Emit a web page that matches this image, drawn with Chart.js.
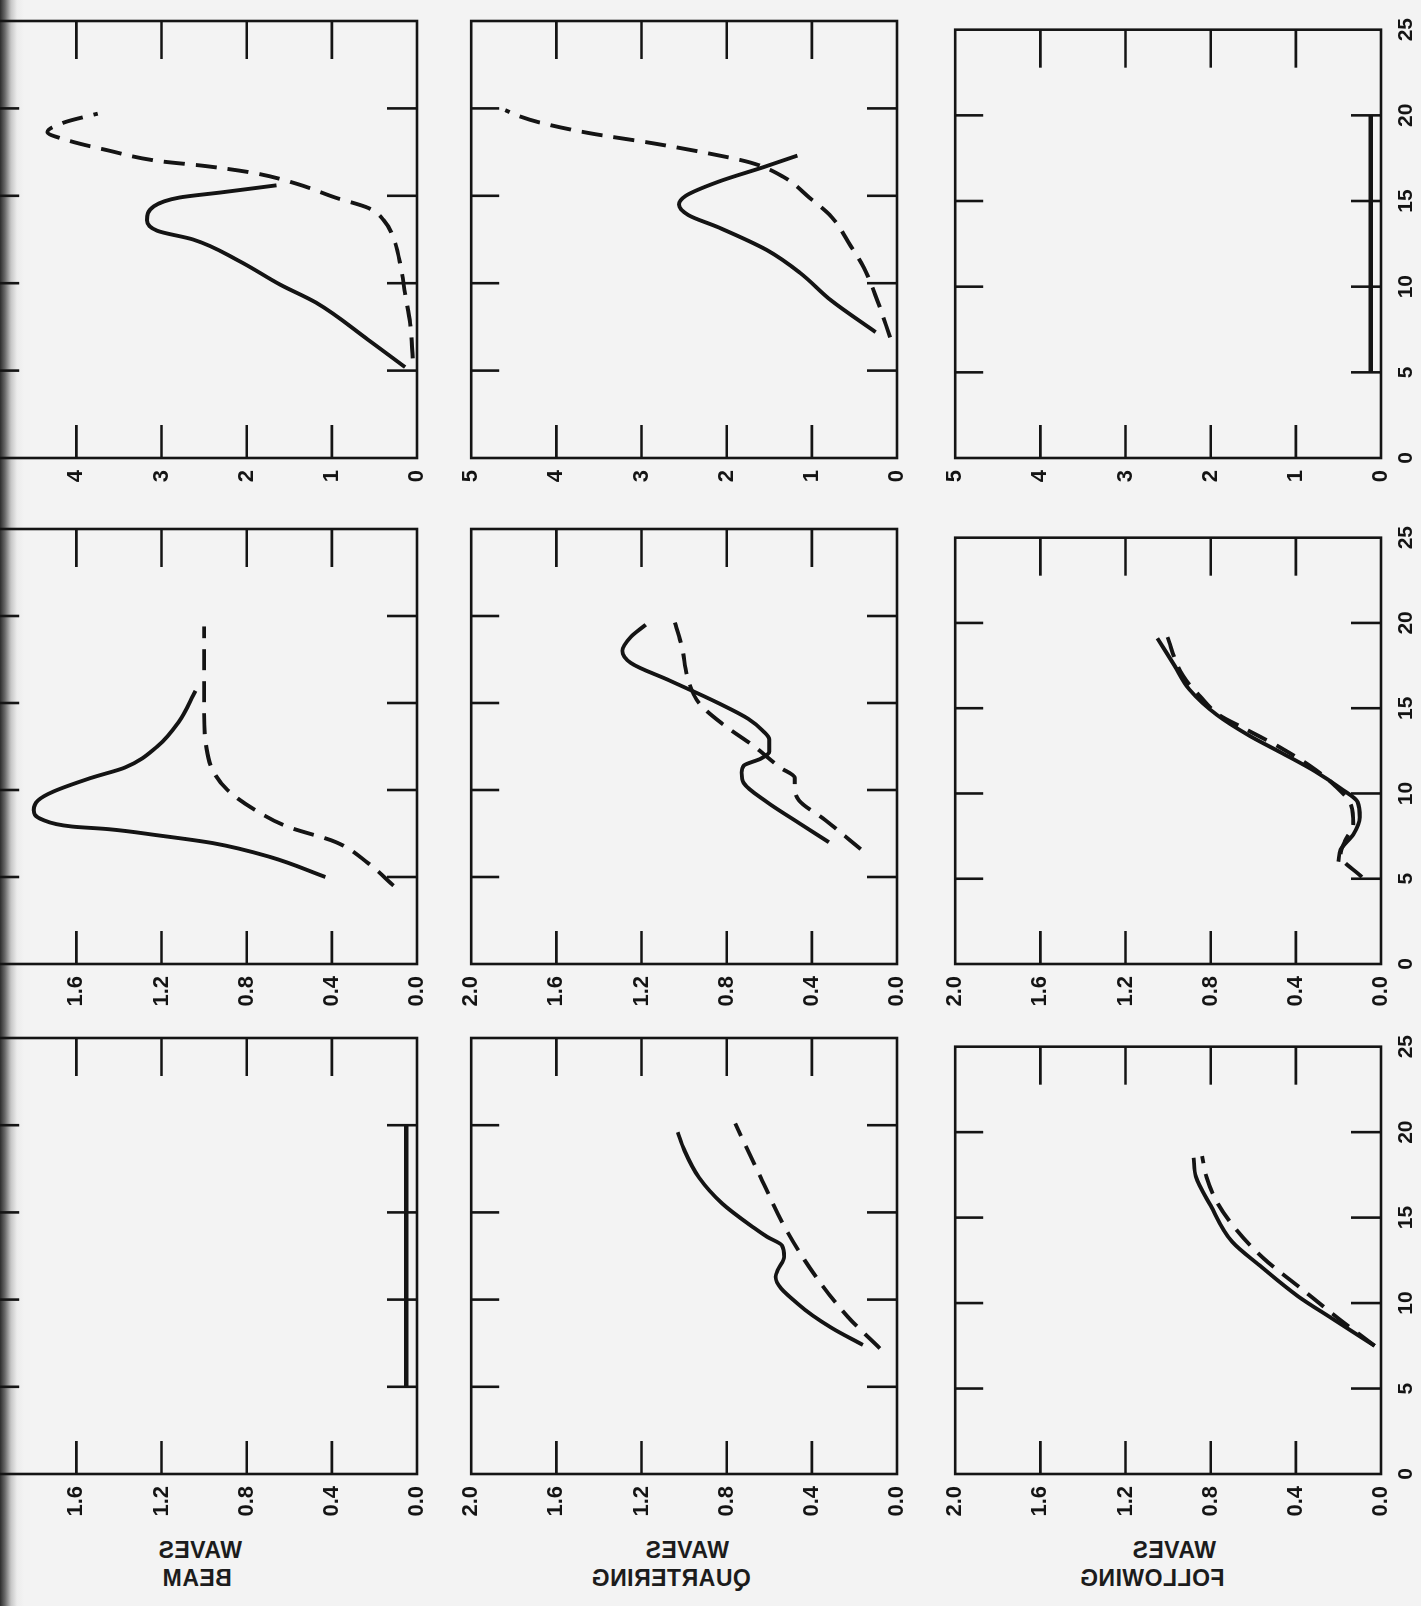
<!DOCTYPE html>
<html>
<head>
<meta charset="utf-8">
<title>Wave response panels</title>
<script src="https://cdn.jsdelivr.net/npm/chart.js@4.4.1/dist/chart.umd.min.js"></script>
<style>
  html, body { margin: 0; padding: 0; }
  body {
    width: 1421px; height: 1606px; overflow: hidden; position: relative;
    background: linear-gradient(to right, #2c2c2c 0px, #6a6a6a 5px, #c6c6c6 11px, #ececec 17px, #f3f3f3 24px);
    font-family: "Liberation Sans", Arial, sans-serif;
  }
  /* the page is laid out upright and then turned a quarter turn */
  #sheet {
    position: absolute; left: 0; top: 0; width: 1606px; height: 1421px;
    transform-origin: 0 0; transform: translate(0px, 1606px) rotate(-90deg);
  }
  #sheet canvas { position: absolute; }
  .rowlab {
    position: absolute; transform: translate(-50%, -50%) scaleX(-1);
    font-size: 23px; font-weight: bold; color: #1c1c1c; white-space: nowrap; letter-spacing: 0.5px;
  }
</style>
</head>
<body>
<div id="sheet"></div>
<script>
const ink = '#141414';

// axis ticks
const periodTicks = [0, 5, 10, 15, 20, 25];
const bigScaleTicks = [0, 1, 2, 3, 4, 5];
const smallScaleTicks = [0, 0.4, 0.8, 1.2, 1.6, 2.0];
const rowNames = ['BEAM', 'QUARTERING', 'FOLLOWING'];
const rowWord = 'WAVES';

// BEAM waves
const beamLeftFlatT = [5, 20];
const beamLeftFlatV = [0.05, 0.05];
const beamMidSolidT = [5.0, 6.15, 6.95, 7.4, 7.75, 7.9, 8.3, 8.85, 9.4, 9.9, 10.7, 11.3, 12.5, 13.9, 15.7];
const beamMidSolidV = [0.43, 0.69, 0.96, 1.22, 1.45, 1.62, 1.76, 1.80, 1.78, 1.71, 1.53, 1.37, 1.22, 1.12, 1.04];
const beamMidDashT = [4.5, 5.8, 7.0, 7.9, 8.85, 10.0, 11.15, 12.5, 14.4, 17.3, 19.4];
const beamMidDashV = [0.11, 0.23, 0.38, 0.61, 0.76, 0.89, 0.96, 0.99, 1.0, 1.0, 1.0];
const beamRightSolidT = [5.2, 6.75, 8.9, 9.9, 11.3, 12.5, 13.0, 13.6, 14.4, 14.9, 15.2, 15.6];
const beamRightSolidV = [0.14, 0.57, 1.19, 1.6, 2.1, 2.63, 3.05, 3.17, 3.09, 2.79, 2.29, 1.65];
const beamRightDashT = [5.7, 7.7, 9.4, 10.9, 12.5, 13.6, 14.3, 14.9, 15.7, 16.3, 16.7, 17.0, 17.6, 18.2, 18.65, 19.2, 19.7];
const beamRightDashV = [0.05, 0.08, 0.14, 0.19, 0.27, 0.39, 0.57, 0.96, 1.42, 1.91, 2.48, 3.05, 3.63, 4.12, 4.34, 4.14, 3.75];

// QUARTERING waves
const quartLeftSolidT = [7.4, 8.4, 9.7, 11.3, 11.7, 12.45, 13.1, 13.6, 14.1, 15.5, 17.0, 18.6, 19.6];
const quartLeftSolidV = [0.16, 0.31, 0.46, 0.57, 0.56, 0.53, 0.54, 0.61, 0.67, 0.82, 0.93, 1.0, 1.03];
const quartLeftDashT = [7.2, 9.0, 11.3, 14.0, 17.0, 20.1];
const quartLeftDashV = [0.08, 0.23, 0.38, 0.52, 0.64, 0.76];
const quartMidSolidT = [7.0, 8.1, 9.3, 10.4, 11.0, 11.4, 11.8, 12.2, 12.9, 13.4, 14.1, 15.0, 16.3, 17.3, 18.0, 18.8, 19.5];
const quartMidSolidV = [0.32, 0.46, 0.61, 0.72, 0.73, 0.72, 0.64, 0.60, 0.60, 0.63, 0.70, 0.84, 1.07, 1.25, 1.29, 1.25, 1.18];
const quartMidDashT = [6.6, 8.3, 9.4, 10.2, 10.7, 11.3, 12.5, 13.8, 15.0, 16.3, 18.2, 19.9];
const quartMidDashV = [0.17, 0.34, 0.46, 0.48, 0.48, 0.55, 0.67, 0.82, 0.93, 0.98, 1.01, 1.05];
const quartRightSolidT = [7.2, 9.0, 10.6, 11.9, 13.2, 13.9, 14.5, 15.0, 15.8, 16.7, 17.3];
const quartRightSolidV = [0.25, 0.77, 1.14, 1.53, 2.1, 2.45, 2.56, 2.48, 2.1, 1.53, 1.17];
const quartRightDashT = [6.9, 9.0, 10.9, 12.1, 13.8, 14.9, 16.1, 16.9, 17.5, 18.0, 18.6, 19.2, 19.6, 19.9];
const quartRightDashV = [0.08, 0.23, 0.39, 0.54, 0.77, 1.03, 1.34, 1.72, 2.29, 2.86, 3.63, 4.2, 4.46, 4.6];

// FOLLOWING waves
const follLeftSolidT = [7.5, 9.1, 10.4, 12.2, 13.6, 15.7, 17.4, 18.5];
const follLeftSolidV = [0.03, 0.23, 0.39, 0.57, 0.70, 0.80, 0.87, 0.88];
const follLeftDashT = [7.5, 9.1, 10.8, 12.6, 14.3, 15.9, 17.4, 18.6];
const follLeftDashV = [0.03, 0.20, 0.37, 0.55, 0.68, 0.77, 0.82, 0.84];
const follMidSolidT = [6.0, 6.7, 7.6, 8.6, 9.5, 10.3, 11.3, 12.4, 13.4, 14.6, 16.1, 17.5, 19.1];
const follMidSolidV = [0.20, 0.19, 0.13, 0.10, 0.11, 0.19, 0.31, 0.47, 0.62, 0.77, 0.90, 0.97, 1.05];
const follMidDashT = [5.1, 6.4, 7.2, 8.2, 9.3, 10.5, 11.5, 12.6, 13.8, 14.6, 15.7, 16.9, 19.4];
const follMidDashV = [0.09, 0.19, 0.17, 0.13, 0.14, 0.22, 0.32, 0.46, 0.64, 0.76, 0.85, 0.93, 1.01];
const follRightFlatT = [5, 20];
const follRightFlatV = [0.12, 0.12];

// where each panel sits on the upright sheet (px)
const colSpan = { left: [132, 568], middle: [642, 1077], right: [1148, 1585] };
const rowSpan = { BEAM: [-20, 417], QUARTERING: [460, 897], FOLLOWING: [944, 1381] };

function pts(t, v) { return t.map((x, i) => ({ x: x, y: v[i] })); }

function curve(t, v, dashed, width) {
  return {
    data: pts(t, v),
    showLine: true,
    borderColor: ink,
    borderWidth: width || 3.9,
    borderDash: dashed ? [21, 11] : [],
    borderCapStyle: 'butt',
    pointRadius: 0,
    fill: false,
    cubicInterpolationMode: 'monotone'
  };
}

const panels = [
  { row: 'BEAM', col: 'left', sets: [curve(beamLeftFlatT, beamLeftFlatV, false, 4.5)] },
  { row: 'BEAM', col: 'middle', sets: [curve(beamMidSolidT, beamMidSolidV), curve(beamMidDashT, beamMidDashV, true)] },
  { row: 'BEAM', col: 'right', sets: [curve(beamRightSolidT, beamRightSolidV), curve(beamRightDashT, beamRightDashV, true)] },
  { row: 'QUARTERING', col: 'left', sets: [curve(quartLeftSolidT, quartLeftSolidV), curve(quartLeftDashT, quartLeftDashV, true)] },
  { row: 'QUARTERING', col: 'middle', sets: [curve(quartMidSolidT, quartMidSolidV), curve(quartMidDashT, quartMidDashV, true)] },
  { row: 'QUARTERING', col: 'right', sets: [curve(quartRightSolidT, quartRightSolidV), curve(quartRightDashT, quartRightDashV, true)] },
  { row: 'FOLLOWING', col: 'left', sets: [curve(follLeftSolidT, follLeftSolidV), curve(follLeftDashT, follLeftDashV, true)] },
  { row: 'FOLLOWING', col: 'middle', sets: [curve(follMidSolidT, follMidSolidV), curve(follMidDashT, follMidDashV, true)] },
  { row: 'FOLLOWING', col: 'right', sets: [curve(follRightFlatT, follRightFlatV, false, 4.5)] }
];

// box round the plot with short inward ticks on all four sides
const framePlugin = {
  id: 'frame',
  afterDraw(chart) {
    const ctx = chart.ctx, a = chart.chartArea, x = chart.scales.x, y = chart.scales.y;
    const seg = (x1, y1, x2, y2) => { ctx.beginPath(); ctx.moveTo(x1, y1); ctx.lineTo(x2, y2); ctx.stroke(); };
    ctx.save();
    ctx.strokeStyle = ink;
    ctx.lineWidth = 2.6;
    ctx.strokeRect(a.left, a.top, a.right - a.left, a.bottom - a.top);
    x.ticks.forEach(t => {
      if (t.value <= x.min || t.value >= x.max) return;
      const px = x.getPixelForValue(t.value);
      seg(px, a.bottom, px, a.bottom - 30);
      seg(px, a.top, px, a.top + 28);
    });
    y.ticks.forEach(t => {
      if (t.value <= y.min || t.value >= y.max) return;
      const py = y.getPixelForValue(t.value);
      seg(a.left, py, a.left + 33, py);
      seg(a.right, py, a.right - 38, py);
    });
    ctx.restore();
  }
};

const sheet = document.getElementById('sheet');
const tickFont = '"Liberation Sans", Arial, sans-serif';

function drawPanel(p) {
  const [x0, x1] = colSpan[p.col];
  const [yTop, yBot] = rowSpan[p.row];
  const padL = 62, padT = 14, padR = 16, padB = 40;
  const w = x1 - x0 + padL + padR, h = yBot - yTop + padT + padB;
  const cv = document.createElement('canvas');
  cv.width = w; cv.height = h;
  cv.style.left = (x0 - padL) + 'px';
  cv.style.top = (yTop - padT) + 'px';
  cv.style.width = w + 'px';
  cv.style.height = h + 'px';
  sheet.appendChild(cv);

  const big = p.col === 'right';
  const valueTicks = big ? bigScaleTicks : smallScaleTicks;

  new Chart(cv, {
    type: 'scatter',
    data: { datasets: p.sets },
    options: {
      responsive: false,
      animation: false,
      events: [],
      layout: { padding: { top: padT, right: padR, left: 0, bottom: 0 } },
      plugins: { legend: { display: false }, tooltip: { enabled: false } },
      scales: {
        x: {
          type: 'linear', min: 0, max: 25,
          afterBuildTicks: s => { s.ticks = periodTicks.map(v => ({ value: v })); },
          afterFit: s => { s.height = padB; },
          grid: { display: false, drawTicks: false },
          border: { display: false },
          ticks: {
            display: p.row === 'FOLLOWING', autoSkip: false, maxRotation: 0, padding: 13,
            color: ink, font: { family: tickFont, size: 21, weight: 'bold' }
          }
        },
        y: {
          type: 'linear', min: 0, max: valueTicks[valueTicks.length - 1],
          afterBuildTicks: s => { s.ticks = valueTicks.map(v => ({ value: v })); },
          afterFit: s => { s.width = padL; },
          grid: { display: false, drawTicks: false },
          border: { display: false },
          ticks: {
            padding: 12, color: ink,
            font: { family: tickFont, size: 22, weight: 'bold' },
            callback: v => big ? String(v) : Number(v).toFixed(1)
          }
        }
      }
    },
    plugins: [framePlugin]
  });
}

panels.forEach(drawPanel);

// row captions under each column (they read mirrored on the sheet)
const captionSpots = [
  { word: [200, 1550], name: [197, 1578] },
  { word: [687, 1550], name: [671, 1578] },
  { word: [1174, 1550], name: [1152, 1578] }
];
rowNames.forEach((name, i) => {
  [[rowWord, captionSpots[i].word], [name, captionSpots[i].name]].forEach(([txt, at]) => {
    const d = document.createElement('div');
    d.className = 'rowlab';
    d.textContent = txt;
    d.style.left = at[0] + 'px';
    d.style.top = at[1] + 'px';
    document.body.appendChild(d);
  });
});
</script>
</body>
</html>
